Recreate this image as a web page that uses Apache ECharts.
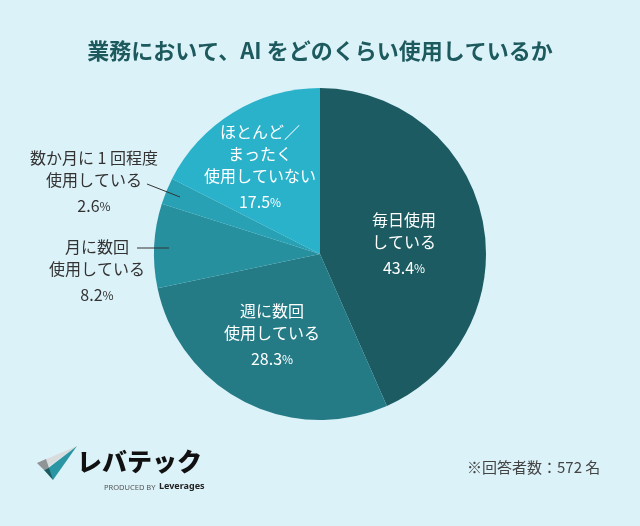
<!DOCTYPE html>
<html>
<head>
<meta charset="utf-8">
<style>html,body{margin:0;padding:0;background:#dcf2f9}#chart{width:640px;height:526px}</style>
<script src="https://cdn.jsdelivr.net/npm/echarts@6/dist/echarts.min.js"></script>
</head>
<body>
<div id="chart"></div>
<script>
var titleText = '業務において、AI をどのくらい使用しているか';
var noteText = '※回答者数：572 名';
var categories = ['毎日使用\nしている', '週に数回\n使用している', '月に数回\n使用している', '数か月に 1 回程度\n使用している', 'ほとんど／\nまったく\n使用していない'];
var values = [43.4, 28.3, 8.2, 2.6, 17.5];
var colors = ['#1b5b61', '#257b85', '#27909f', '#28a1b5', '#2ab2cb'];
// 标签位置
var labelPos = [[404, 246], [272, 337], [97, 273], [94, 184], [260, 169]];
var labelColor = ['#fff', '#fff', '#333', '#333', '#fff'];
var font = '"Noto Sans CJK JP"';

var data = [];
for (var i = 0; i < values.length; i++) {
	data.push({
		name: categories[i],
		value: values[i],
		itemStyle: {color: colors[i]},
		label: {
			color: labelColor[i],
			rich: {
				t: {fontSize: 16, lineHeight: 22, color: labelColor[i], fontFamily: font},
				n: {fontSize: 16, lineHeight: 30, color: labelColor[i], fontFamily: font},
				p: {fontSize: 12, lineHeight: 30, color: labelColor[i], fontFamily: font}
			}
		}
	});
}

var chart = echarts.init(document.getElementById('chart'));
chart.setOption({
	backgroundColor: '#dcf2f9',
	animation: false,
	title: {
		text: titleText,
		left: 'center',
		top: 35,
		textStyle: {fontFamily: font, fontSize: 22, fontWeight: 'bold', color: '#1d5a5e'}
	},
	series: [{
		type: 'pie',
		center: [320, 254],
		radius: [0, 166],
		startAngle: 90,
		clockwise: true,
		data: data,
		label: {
			show: true,
			position: 'inside',
			align: 'center',
			formatter: function (p) {
				var lines = p.name.split('\n').map(function (s) { return '{t|' + s + '}'; });
				lines.push('{n|' + p.value.toFixed(1) + '}{p|%}');
				return lines.join('\n');
			}
		},
		labelLine: {show: false},
		labelLayout: function (p) {
			return {x: labelPos[p.dataIndex][0], y: labelPos[p.dataIndex][1], align: 'center', verticalAlign: 'middle'};
		},
		emphasis: {disabled: true}
	}],
	graphic: [
		// 引出线
		{type: 'line', shape: {x1: 147, y1: 184, x2: 180, y2: 197}, style: {stroke: '#333', lineWidth: 1}, z: 10},
		{type: 'line', shape: {x1: 137, y1: 248, x2: 169, y2: 248}, style: {stroke: '#333', lineWidth: 1}, z: 10},
		// 注释
		{type: 'text', x: 467, y: 460, style: {text: noteText, font: '15px ' + font, fill: '#444'}},
		// logo
		{type: 'polygon', shape: {points: [[77, 446], [37, 463], [44, 470]]}, style: {fill: '#d9dcdd'}},
		{type: 'polygon', shape: {points: [[37, 463], [46, 459], [49, 468], [44, 470]]}, style: {fill: '#8f9496'}},
		{type: 'polygon', shape: {points: [[77, 446], [47, 469], [53, 480]]}, style: {fill: '#2b96a3'}},
		{type: 'polygon', shape: {points: [[44, 470], [49, 468], [53, 480]]}, style: {fill: '#1b5b61'}},
		{type: 'text', x: 77, y: 449, style: {text: 'レバテック', font: '900 25px ' + font, fill: '#111'}},
		{type: 'text', x: 104, y: 484, style: {text: 'PRODUCED BY', font: '7.5px "Noto Sans"', fill: '#555'}},
		{type: 'text', x: 159, y: 482, style: {text: 'Leverages', font: 'bold 9px "Noto Sans"', fill: '#222'}}
	]
});
</script>
</body>
</html>
